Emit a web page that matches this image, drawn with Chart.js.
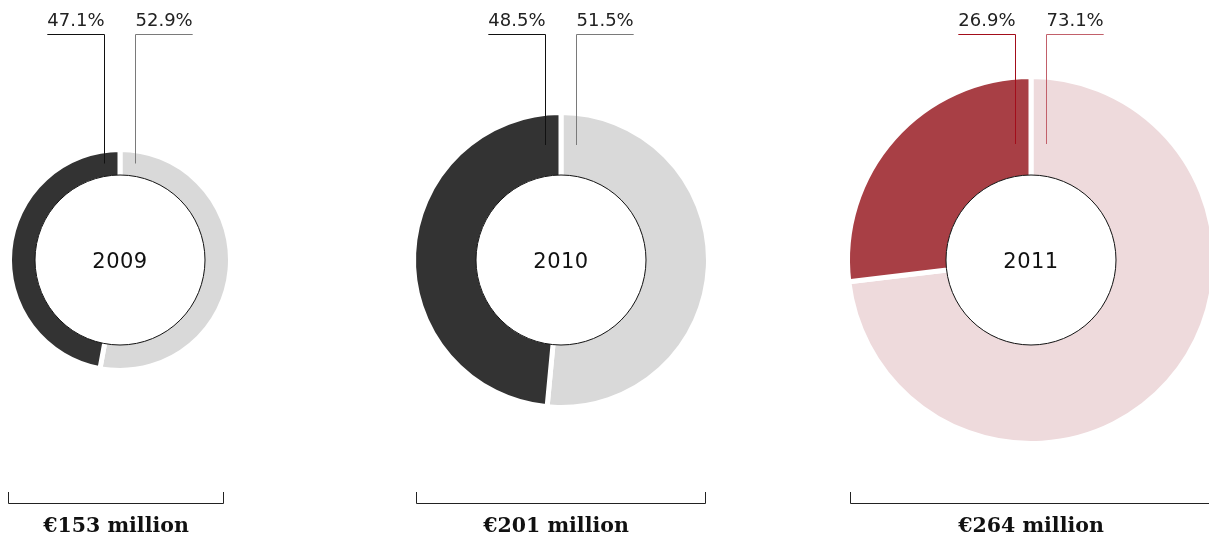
<!DOCTYPE html>
<html>
<head>
<meta charset="utf-8">
<script src="https://cdn.jsdelivr.net/npm/chart.js@4"></script>
<style>
  html, body { margin: 0; padding: 0; background: #fff; }
  body { width: 1209px; height: 538px; position: relative; overflow: hidden; }
  canvas { position: absolute; top: 0; }
</style>
</head>
<body>

<script>
// shares per year, in percent
const years = ['2009', '2010', '2011'];
const darkShare = [47.1, 48.5, 26.9];
const lightShare = [52.9, 51.5, 73.1];
// totals in € million
const totals = [153, 201, 264];

// layout
const centersX = [120, 561, 1031];
const outerR = [108, 145, 181];
const bracketShift = [-4, 0, 0];
const totalShift = [-4, -5, 0];
const innerR = 85;
const gap = 5;
const canvasW = 440, canvasH = 538;

const palettes = [
  { dark: '#333333', light: '#d9d9d9', darkLine: '#111111', lightLine: '#7a7a7a' },
  { dark: '#333333', light: '#d9d9d9', darkLine: '#111111', lightLine: '#7a7a7a' },
  { dark: '#a83f45', light: '#eedadc', darkLine: '#a30d1a', lightLine: '#c2606a' }
];

const ringDecor = {
  id: 'ringDecor',
  afterDraw(chart, args, opts) {
    const ctx = chart.ctx;
    const arc = chart.getDatasetMeta(0).data[0];
    const cx = arc.x, cy = arc.y;
    const R = opts.radius;
    const pal = opts.palette;

    // white hole with thin outline
    ctx.save();
    ctx.beginPath();
    ctx.arc(cx, cy, innerR, 0, Math.PI * 2);
    ctx.fillStyle = '#fff';
    ctx.fill();
    ctx.lineWidth = 1;
    ctx.strokeStyle = '#111';
    ctx.stroke();

    // year in the middle
    ctx.fillStyle = '#111';
    ctx.font = '21px "DejaVu Sans"';
    ctx.letterSpacing = '0.5px';
    ctx.textAlign = 'center';
    ctx.textBaseline = 'middle';
    ctx.fillText(opts.year, cx, cy + 3);

    // leader lines and share labels
    const lineY = 34.5;
    const endY = Math.max((cy - R + cy - innerR) / 2, 144);
    ctx.font = '18px "DejaVu Sans"';
    ctx.letterSpacing = '0px';
    ctx.textBaseline = 'alphabetic';
    const labels = [
      { text: opts.dark.toFixed(1) + '%', x: Math.round(cx) - 15.5, side: -1, color: pal.darkLine },
      { text: opts.light.toFixed(1) + '%', x: Math.round(cx) + 15.5, side: 1, color: pal.lightLine }
    ];
    labels.forEach(l => {
      const w = ctx.measureText(l.text).width;
      ctx.strokeStyle = l.color;
      ctx.beginPath();
      ctx.moveTo(l.x + l.side * w, lineY);
      ctx.lineTo(l.x, lineY);
      ctx.lineTo(l.x, endY);
      ctx.stroke();
      ctx.fillStyle = '#222';
      ctx.textAlign = l.side < 0 ? 'right' : 'left';
      ctx.fillText(l.text, l.x, 26);
    });

    // bracket and total below
    const bx0 = Math.round(cx - R + opts.shift) + 0.5, bx1 = Math.round(cx + R + opts.shift) - 0.5;
    ctx.strokeStyle = '#222';
    ctx.beginPath();
    ctx.moveTo(bx0, 492);
    ctx.lineTo(bx0, 503.5);
    ctx.lineTo(bx1, 503.5);
    ctx.lineTo(bx1, 492);
    ctx.stroke();

    ctx.fillStyle = '#111';
    ctx.font = 'bold 20.5px "DejaVu Serif"';
    ctx.textAlign = 'center';
    ctx.fillText('€' + opts.total + ' million', cx + opts.totalShift, 532);
    ctx.restore();
  }
};

years.forEach((year, i) => {
  const canvas = document.createElement('canvas');
  canvas.width = canvasW;
  canvas.height = canvasH;
  canvas.style.left = (centersX[i] - canvasW / 2) + 'px';
  document.body.appendChild(canvas);

  const R = outerR[i] + gap / 2;
  const cut = innerR - gap / 2;
  const pal = palettes[i];

  new Chart(canvas, {
    type: 'doughnut',
    data: {
      labels: ['light', 'dark'],
      datasets: [{
        data: [lightShare[i], darkShare[i]],
        backgroundColor: [pal.light, pal.dark],
        borderColor: '#fff',
        borderWidth: gap,
        hoverOffset: 0
      }]
    },
    options: {
      responsive: false,
      animation: false,
      radius: R,
      cutout: (cut / R * 100) + '%',
      layout: { padding: { top: 0, bottom: 18, left: 0, right: 0 } },
      plugins: {
        legend: { display: false },
        tooltip: { enabled: false },
        ringDecor: {
          year: year,
          dark: darkShare[i],
          light: lightShare[i],
          total: totals[i],
          radius: outerR[i],
          shift: bracketShift[i],
          totalShift: totalShift[i],
          palette: pal
        }
      }
    },
    plugins: [ringDecor]
  });
});
</script>
</body>
</html>
